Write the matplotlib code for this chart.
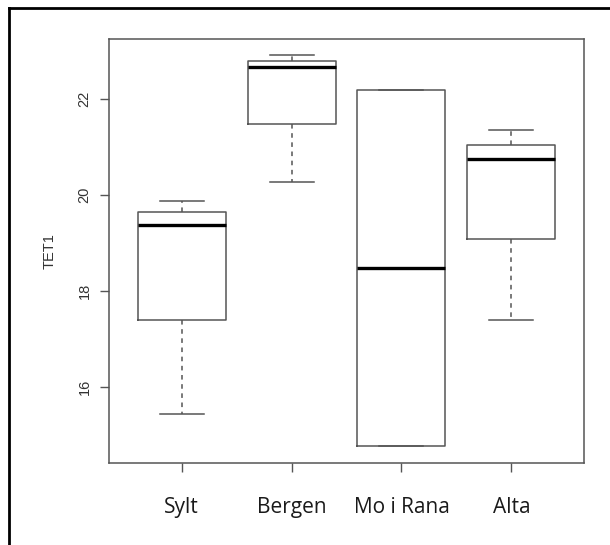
import matplotlib
matplotlib.use("Agg")
import matplotlib.pyplot as plt
from matplotlib.lines import Line2D

# values
sites = ["Sylt", "Bergen", "Mo i Rana", "Alta"]
whis_lo = [15.43, 20.26, 14.77, 17.40]
q1 = [17.40, 21.48, 14.77, 19.09]
median = [19.375, 22.67, 18.47, 20.74]
q3 = [19.64, 22.80, 22.19, 21.04]
whis_hi = [19.875, 22.92, 22.19, 21.35]
yticks = [16, 18, 20, 22]

stats = []
for i in range(len(sites)):
    stats.append(dict(label=sites[i], whislo=whis_lo[i], q1=q1[i], med=median[i],
                      q3=q3[i], whishi=whis_hi[i], fliers=[]))

fig = plt.figure(figsize=(6.1, 5.45), dpi=100)
ax = fig.add_axes([109/610, 1-462.7/545, (584-109)/610, (462.7-39)/545])

grey = "#555555"
ax.bxp(stats, positions=[1, 2, 3, 4], widths=0.8, showfliers=False,
       boxprops=dict(color=grey, linewidth=1.1),
       whiskerprops=dict(color=grey, linewidth=1.1, linestyle=(0, (3, 3))),
       capprops=dict(color=grey, linewidth=1.1),
       medianprops=dict(color="black", linewidth=2.4),
       capwidths=0.4)

ax.set_xlim(0.34, 4.66)
ax.set_ylim(14.42, 23.25)

for s in ax.spines.values():
    s.set_color(grey)
    s.set_linewidth(1.1)

ax.set_yticks(yticks)
ax.set_yticklabels([str(t) for t in yticks], rotation=90, va="center",
                   fontsize=10.5, color="#333333", family="Liberation Sans")
ax.tick_params(axis="y", length=6.5, width=1, color=grey, pad=6)
ax.set_xticks([1, 2, 3, 4])
ax.set_xticklabels(sites, fontsize=15, family="Open Sans", color="#1a1a1a")
ax.tick_params(axis="x", length=6.5, width=1, color=grey, pad=18)

ax.set_ylabel("TET1", fontsize=10.5, color="#333333", family="Liberation Sans")
ax.yaxis.set_label_coords(-(109-50)/475, 0.5)
ax.yaxis.label.set_va("center")

# screenshot frame (top and left edges only)
fig.add_artist(Line2D([9/610, 9/610], [0, 1-8/545], color="black", linewidth=2,
                      transform=fig.transFigure))
fig.add_artist(Line2D([9/610, 1], [1-8/545, 1-8/545], color="black", linewidth=2,
                      transform=fig.transFigure))

fig.savefig("out.png", dpi=100)
